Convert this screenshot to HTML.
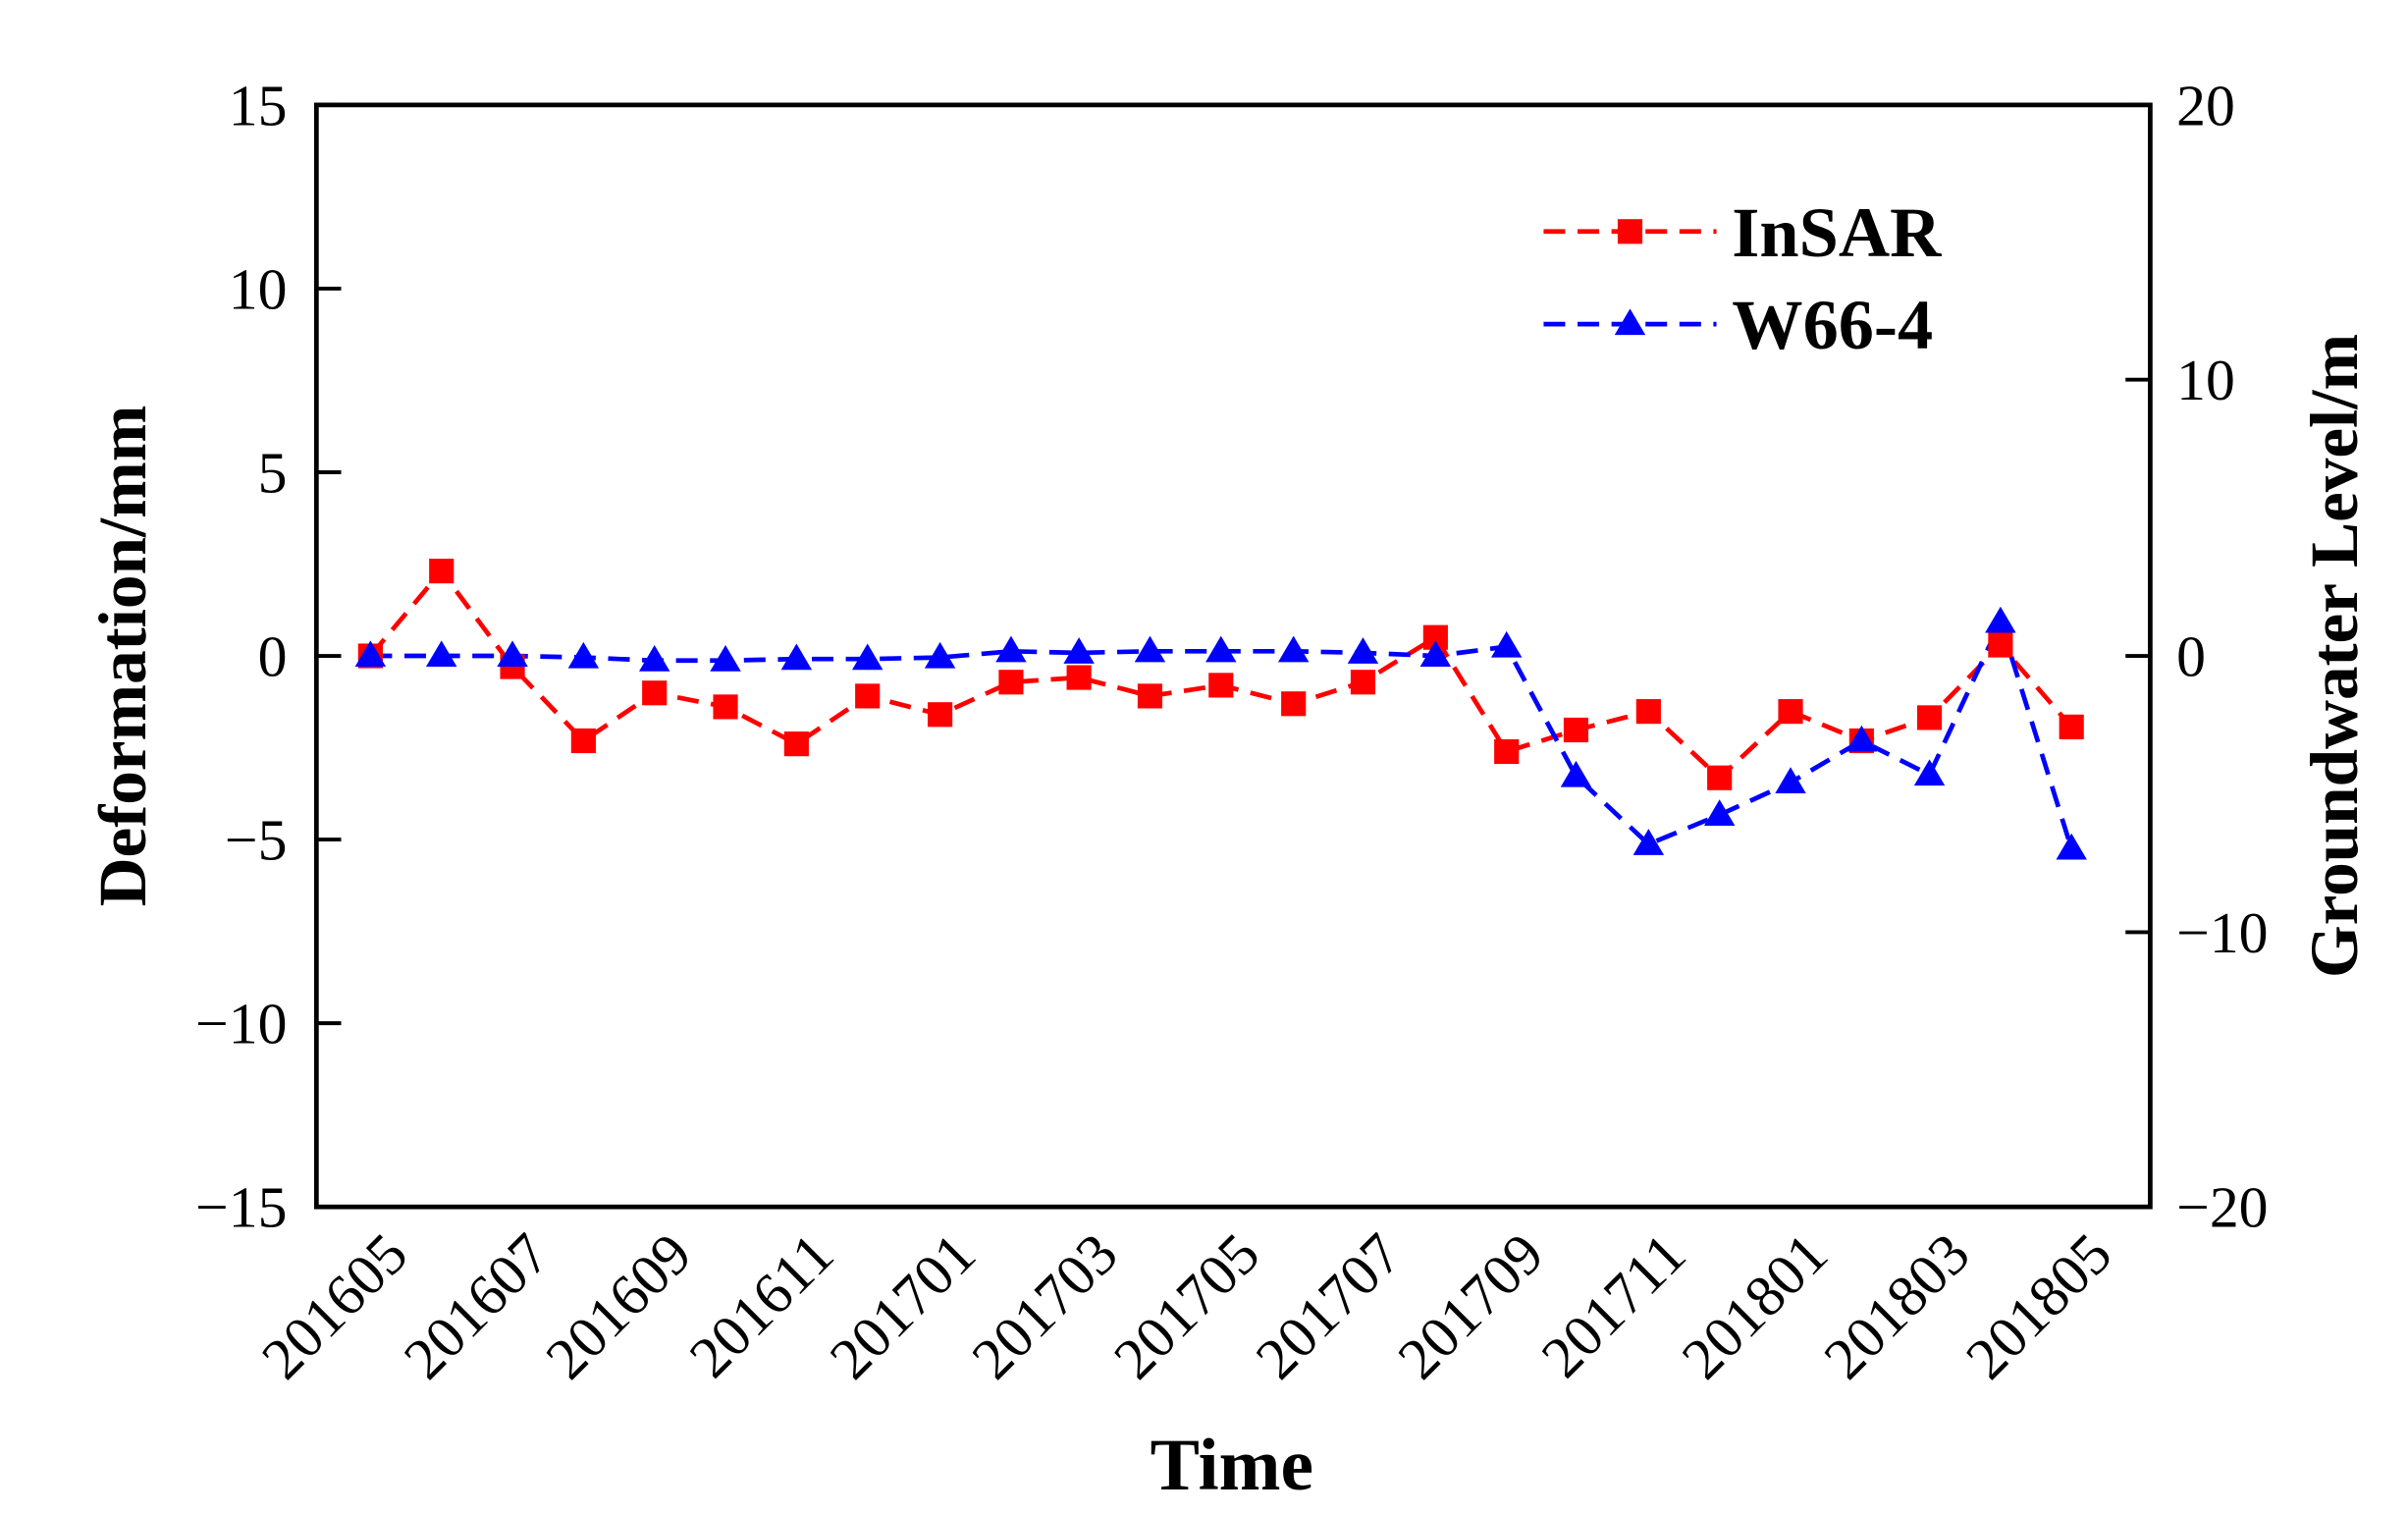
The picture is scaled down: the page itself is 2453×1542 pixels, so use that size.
<!DOCTYPE html>
<html><head><meta charset="utf-8"><style>
html,body{margin:0;padding:0;background:#fff;}
svg{display:block;}
</style></head><body>
<svg width="2453" height="1542" viewBox="0 0 1560 981" preserveAspectRatio="none" xmlns="http://www.w3.org/2000/svg">
<defs>
<path id="t" d="M0,-10 l10,17 h-20z" fill="#0000ff"/>
<rect id="s" x="-8" y="-8" width="16" height="16" fill="#ff0000"/>
</defs>
<rect width="1560" height="981" fill="#fff"/>
<g font-family="Liberation Serif, serif" fill="#000">
<rect x="205" y="68" width="1188" height="714" fill="none" stroke="#000" stroke-width="3"/>
<g stroke="#000" stroke-width="2.5">
<line x1="205" y1="68" x2="221" y2="68"/><line x1="205" y1="187" x2="221" y2="187"/><line x1="205" y1="306" x2="221" y2="306"/><line x1="205" y1="425" x2="221" y2="425"/><line x1="205" y1="544" x2="221" y2="544"/><line x1="205" y1="663" x2="221" y2="663"/><line x1="205" y1="782" x2="221" y2="782"/>
<line x1="1377" y1="68" x2="1393" y2="68"/><line x1="1377" y1="246" x2="1393" y2="246"/><line x1="1377" y1="425" x2="1393" y2="425"/><line x1="1377" y1="604" x2="1393" y2="604"/><line x1="1377" y1="782" x2="1393" y2="782"/>
</g>
<g font-size="38" text-anchor="end">
<text x="186" y="81">15</text><text x="186" y="200">10</text><text x="186" y="319">5</text><text x="186" y="438">0</text><text x="186" y="557">−5</text><text x="186" y="676">−10</text><text x="186" y="795">−15</text>
</g>
<g font-size="38" text-anchor="start">
<text x="1410" y="81">20</text><text x="1410" y="259">10</text><text x="1410" y="438">0</text><text x="1410" y="617">−10</text><text x="1410" y="795">−20</text>
</g>
<g font-size="38" text-anchor="end">
<text transform="translate(266,815) rotate(-45)">201605</text>
<text transform="translate(358,815) rotate(-45)">201607</text>
<text transform="translate(450,815) rotate(-45)">201609</text>
<text transform="translate(542,815) rotate(-45)">201611</text>
<text transform="translate(634,815) rotate(-45)">201701</text>
<text transform="translate(726,815) rotate(-45)">201703</text>
<text transform="translate(818,815) rotate(-45)">201705</text>
<text transform="translate(910,815) rotate(-45)">201707</text>
<text transform="translate(1002,815) rotate(-45)">201709</text>
<text transform="translate(1094,815) rotate(-45)">201711</text>
<text transform="translate(1186,815) rotate(-45)">201801</text>
<text transform="translate(1278,815) rotate(-45)">201803</text>
<text transform="translate(1370,815) rotate(-45)">201805</text>
</g>
<text x="798" y="965" font-size="48" font-weight="bold" text-anchor="middle">Time</text>
<text transform="translate(94,425) rotate(-90)" font-size="44" font-weight="bold" text-anchor="middle">Deformation/mm</text>
<text transform="translate(1527,425) rotate(-90)" font-size="44" font-weight="bold" text-anchor="middle">Groundwater Level/m</text>
</g>
<polyline fill="none" stroke="#ff0000" stroke-width="3" stroke-dasharray="14,8" points="240,425 286,370 332,432 378,480 424,449 470,458 516,482 562,451 609,463 655,442 699,439 745,451 791,444 838,456 883,442 930,413 976,487 1021,473 1068,461 1114,504 1160,461 1206,480 1250,465 1296,418 1342,471"/>
<polyline fill="none" stroke="#0000ff" stroke-width="3" stroke-dasharray="14,8" points="240,425 286,425 332,425 378,426 424,428 470,428 516,427 562,427 609,426 655,422 699,423 745,422 791,422 838,422 883,423 930,425 976,419 1021,503 1068,547 1114,528 1160,507 1206,480 1250,502 1296,403 1342,550"/>
<g>
<use href="#s" x="240" y="425"/><use href="#s" x="286" y="370"/><use href="#s" x="332" y="432"/><use href="#s" x="378" y="480"/><use href="#s" x="424" y="449"/><use href="#s" x="470" y="458"/><use href="#s" x="516" y="482"/><use href="#s" x="562" y="451"/><use href="#s" x="609" y="463"/><use href="#s" x="655" y="442"/><use href="#s" x="699" y="439"/><use href="#s" x="745" y="451"/><use href="#s" x="791" y="444"/><use href="#s" x="838" y="456"/><use href="#s" x="883" y="442"/><use href="#s" x="930" y="413"/><use href="#s" x="976" y="487"/><use href="#s" x="1021" y="473"/><use href="#s" x="1068" y="461"/><use href="#s" x="1114" y="504"/><use href="#s" x="1160" y="461"/><use href="#s" x="1206" y="480"/><use href="#s" x="1250" y="465"/><use href="#s" x="1296" y="418"/><use href="#s" x="1342" y="471"/>
</g>
<g>
<use href="#t" x="240" y="425"/><use href="#t" x="286" y="425"/><use href="#t" x="332" y="425"/><use href="#t" x="378" y="426"/><use href="#t" x="424" y="428"/><use href="#t" x="470" y="428"/><use href="#t" x="516" y="427"/><use href="#t" x="562" y="427"/><use href="#t" x="609" y="426"/><use href="#t" x="655" y="422"/><use href="#t" x="699" y="423"/><use href="#t" x="745" y="422"/><use href="#t" x="791" y="422"/><use href="#t" x="838" y="422"/><use href="#t" x="883" y="423"/><use href="#t" x="930" y="425"/><use href="#t" x="976" y="419"/><use href="#t" x="1021" y="503"/><use href="#t" x="1068" y="547"/><use href="#t" x="1114" y="528"/><use href="#t" x="1160" y="507"/><use href="#t" x="1206" y="480"/><use href="#t" x="1250" y="502"/><use href="#t" x="1296" y="403"/><use href="#t" x="1342" y="550"/>
</g>
<line x1="1000" y1="150" x2="1112" y2="150" stroke="#ff0000" stroke-width="3" stroke-dasharray="14,8"/>
<use href="#s" x="1056" y="150"/>
<line x1="1000" y1="210" x2="1112" y2="210" stroke="#0000ff" stroke-width="3" stroke-dasharray="14,8"/>
<use href="#t" x="1056" y="210"/>
<g font-family="Liberation Serif, serif" font-size="46" font-weight="bold">
<text x="1122" y="166">InSAR</text>
<text x="1122" y="226">W66-4</text>
</g>
</svg>
</body></html>
